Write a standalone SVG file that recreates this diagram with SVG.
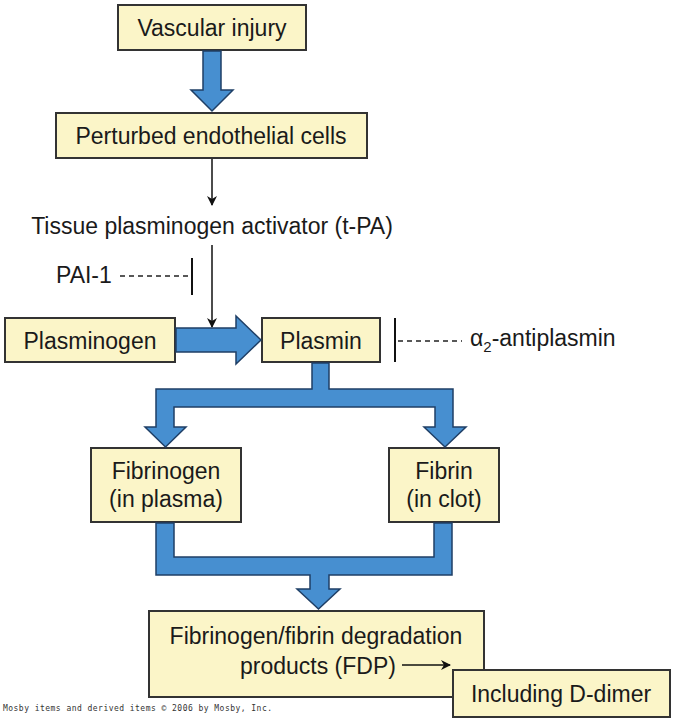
<svg xmlns="http://www.w3.org/2000/svg" width="674" height="720" viewBox="0 0 674 720">
<defs>
<style>
.box{fill:#fbf5c8;stroke:#333;stroke-width:2}
.t{font-family:"Liberation Sans",Arial,sans-serif;font-size:23px;fill:#1a1a1a}
.blue{fill:#478fd0;stroke:#1f3f66;stroke-width:1.5;stroke-linejoin:miter}
.thin{stroke:#111;stroke-width:1.5;fill:none}
.dash{stroke:#222;stroke-width:1.5;stroke-dasharray:5,4;fill:none}
.bar{stroke:#111;stroke-width:2}
</style>
<marker id="ah" markerWidth="10" markerHeight="10" refX="9" refY="5" orient="auto" markerUnits="userSpaceOnUse">
<path d="M0,0 L10,5 L0,10 L3,5 Z" fill="#111"/>
</marker>
</defs>
<rect width="674" height="720" fill="#fff"/>
<g id="vascular-injury">
<rect class="box" x="118" y="5" width="188" height="45"/>
<text class="t" x="212" y="36" text-anchor="middle">Vascular injury</text>
</g>
<g id="perturbed-endothelial-cells">
<rect class="box" x="56" y="113" width="311" height="45"/>
<text class="t" x="211" y="144" text-anchor="middle">Perturbed endothelial cells</text>
</g>
<g id="tpa">
<text class="t" x="212" y="234" text-anchor="middle">Tissue plasminogen activator (t-PA)</text>
</g>
<g id="pai-1">
<text class="t" x="56" y="283">PAI-1</text>
</g>
<g id="plasminogen">
<rect class="box" x="5" y="318" width="170" height="44"/>
<text class="t" x="90" y="349" text-anchor="middle">Plasminogen</text>
</g>
<g id="plasmin">
<rect class="box" x="262" y="318" width="118" height="44"/>
<text class="t" x="321" y="349" text-anchor="middle">Plasmin</text>
</g>
<g id="antiplasmin">
<text class="t" x="470" y="346">α<tspan font-size="15" dy="6">2</tspan><tspan dy="-6">-antiplasmin</tspan></text>
</g>
<g id="fibrinogen">
<rect class="box" x="91" y="448" width="150" height="74"/>
<text class="t" x="166" y="479" text-anchor="middle">Fibrinogen</text>
<text class="t" x="166" y="507" text-anchor="middle">(in plasma)</text>
</g>
<g id="fibrin">
<rect class="box" x="389" y="448" width="110" height="74"/>
<text class="t" x="444" y="479" text-anchor="middle">Fibrin</text>
<text class="t" x="444" y="507" text-anchor="middle">(in clot)</text>
</g>
<g id="fdp">
<rect class="box" x="149" y="611" width="335" height="86"/>
<text class="t" x="316" y="644" text-anchor="middle">Fibrinogen/fibrin degradation</text>
<text class="t" x="240" y="674">products (FDP)</text>
</g>
<g id="d-dimer">
<rect class="box" x="453" y="670" width="217" height="47"/>
<text class="t" x="561" y="702" text-anchor="middle">Including D-dimer</text>
</g>
<g id="connectors">
<path class="blue" d="M203,51 V90 H191 L212,111 L233,90 H221 V51 Z"/>
<line class="thin" x1="212" y1="159" x2="212" y2="205" marker-end="url(#ah)"/>
<line class="thin" x1="212" y1="245" x2="212" y2="327" marker-end="url(#ah)"/>
<line class="dash" x1="120" y1="276" x2="190" y2="276"/>
<line class="bar" x1="192" y1="258" x2="192" y2="295"/>
<path class="blue" d="M176,328 H236 V316 L261,340 L236,364 V352 H176 Z"/>
<line class="bar" x1="395" y1="318" x2="395" y2="362"/>
<line class="dash" x1="398" y1="341" x2="462" y2="341"/>
<path class="blue" d="M312,363 V389 H156 V427 H145 L165.5,447 L186,427 H174 V407 H435 V427 H424 L445,447 L466,427 H453 V389 H329 V363 Z"/>
<path class="blue" d="M156,523 V575 H310 V589 H297 L318.5,609 L340,589 H329 V575 H452 V523 H434 V557 H174 V523 Z"/>
<line class="thin" x1="402" y1="665" x2="450" y2="665" marker-end="url(#ah)"/>
</g>
<text x="3" y="711" font-family="'DejaVu Sans Mono','Liberation Mono',monospace" font-size="8" fill="#333" textLength="269" lengthAdjust="spacing">Mosby items and derived items © 2006 by Mosby, Inc.</text>
</svg>
